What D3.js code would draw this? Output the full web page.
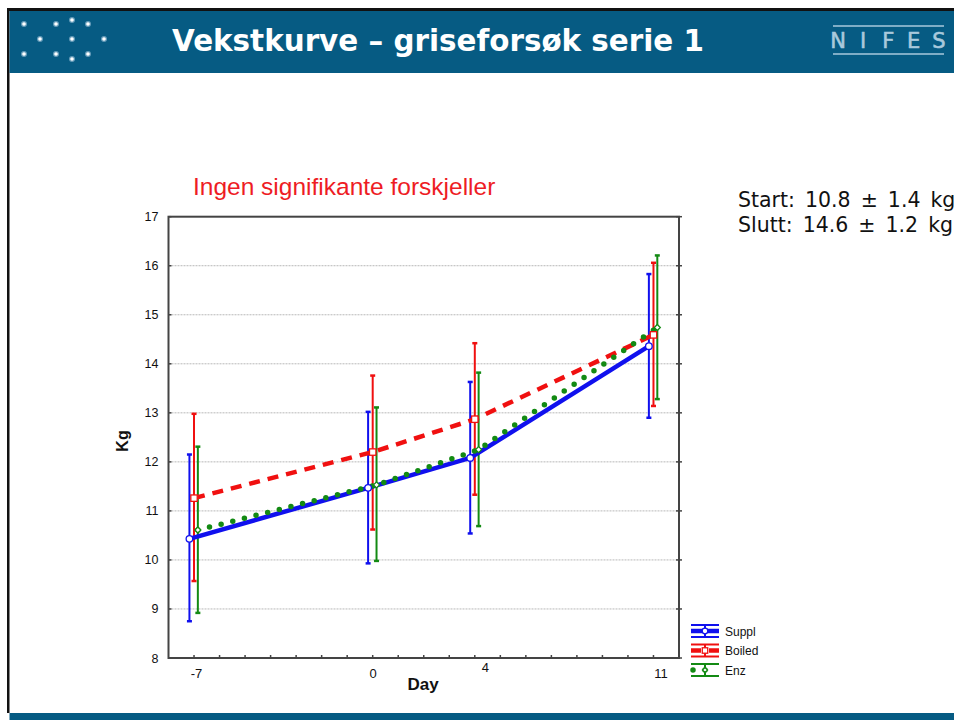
<!DOCTYPE html>
<html><head><meta charset="utf-8">
<script src="https://cdn.jsdelivr.net/npm/d3@7"></script>
<style>body{margin:0;background:#fff;} svg{display:block;}</style>
</head><body>
<svg id="c" width="954" height="720"></svg>
<script>
// ---- data ----
const days = [-7, 0, 4, 11];
const seriesNames = ["Suppl", "Boiled", "Enz"];
const supplMean = [10.43, 11.47, 12.08, 14.36];
const supplLow  = [8.75, 9.93, 10.54, 12.90];
const supplHigh = [12.15, 13.02, 13.63, 15.83];
const boiledMean = [11.26, 12.20, 12.87, 14.59];
const boiledLow  = [9.57, 10.62, 11.33, 13.14];
const boiledHigh = [12.98, 13.76, 14.42, 16.06];
const enzMean = [10.61, 11.53, 12.25, 14.74];
const enzLow  = [8.92, 9.98, 10.69, 13.28];
const enzHigh = [12.31, 13.11, 13.82, 16.21];
const yTicks = [8, 9, 10, 11, 12, 13, 14, 15, 16, 17];
const xTickLabels = [-7, 0, 4, 11];
const xMinorTicks = d3.range(-7, 12);

const svg = d3.select("#c");
const headerBlue = "#065b83";

// ---- slide frame ----
svg.append("rect").attr("x", 7).attr("y", 8).attr("width", 947).attr("height", 3).attr("fill", "#111");
svg.append("rect").attr("x", 7).attr("y", 8).attr("width", 2.5).attr("height", 705).attr("fill", "#111");
svg.append("rect").attr("x", 9.5).attr("y", 11).attr("width", 945).attr("height", 62).attr("fill", headerBlue);
svg.append("rect").attr("x", 9.5).attr("y", 713).attr("width", 945).attr("height", 7).attr("fill", headerBlue);

// logo dots
const dots = [[24,24],[56,24],[72,20],[88,24],[40,39],[72,39],[104,39],[24,54],[56,54],[72,59],[88,54]];
const dg = svg.append("g");
dg.selectAll(".halo").data(dots).join("circle").attr("cx", d => d[0]).attr("cy", d => d[1]).attr("r", 3).attr("fill", "#8fb8d0").attr("opacity", 0.7);
dg.selectAll(".core").data(dots).join("circle").attr("cx", d => d[0]).attr("cy", d => d[1]).attr("r", 1.8).attr("fill", "#ffffff");

svg.append("text").attr("x", 172).attr("y", 51)
  .attr("font-family", "DejaVu Sans, Verdana, sans-serif").attr("font-weight", "bold")
  .attr("font-size", 29.4).attr("fill", "#fff").text("Vekstkurve – griseforsøk serie 1");

// NIFES logo
const nifesColor = "#a9c9dc";
svg.append("line").attr("x1", 833).attr("x2", 944).attr("y1", 26).attr("y2", 26).attr("stroke", nifesColor).attr("stroke-width", 1.5);
svg.append("line").attr("x1", 833).attr("x2", 944).attr("y1", 54).attr("y2", 54).attr("stroke", nifesColor).attr("stroke-width", 1.5);
const nifesLetters = ["N","I","F","E","S"];
svg.selectAll(".nl").data(nifesLetters).join("text")
  .attr("x", (d, i) => 838 + i * 25.2).attr("y", 47.5).attr("text-anchor", "middle")
  .attr("font-family", "DejaVu Sans, sans-serif").attr("font-size", 21).attr("fill", nifesColor)
  .attr("stroke", nifesColor).attr("stroke-width", 0.6).text(d => d);

// ---- chart ----
const x = d3.scaleLinear().domain([-8, 12]).range([168.5, 679]);
const y = d3.scaleLinear().domain([8, 17]).range([658, 216.7]);
const axisColor = "#444";

// grid
svg.append("g").selectAll("line").data(yTicks.filter(v => v > 8 && v < 17)).join("line")
  .attr("x1", x(-8)).attr("x2", x(12)).attr("y1", d => y(d)).attr("y2", d => y(d))
  .attr("stroke", "#b8b8b8").attr("stroke-width", 1).attr("stroke-dasharray", "2,1");

// y axis labels
const yAxis = svg.append("g").attr("transform", `translate(${x(-8)},0)`)
  .call(d3.axisLeft(y).tickValues(yTicks).tickSize(0).tickPadding(10));
yAxis.select(".domain").remove();
yAxis.selectAll("text").attr("font-family", "Liberation Sans, Arial, sans-serif").attr("font-size", 12.5).attr("fill", "#111");

// y ticks inward (left and right)
svg.append("g").selectAll("line").data(yTicks).join("line")
  .attr("x1", x(-8)).attr("x2", x(-8) + 3).attr("y1", d => y(d)).attr("y2", d => y(d)).attr("stroke", axisColor).attr("stroke-width", 1.5);
svg.append("g").selectAll("line").data(yTicks).join("line")
  .attr("x1", x(12) - 3).attr("x2", x(12) + 3).attr("y1", d => y(d)).attr("y2", d => y(d)).attr("stroke", axisColor).attr("stroke-width", 1.5);

// x axis labels
const xAxis = svg.append("g").attr("transform", `translate(0,${y(8)})`)
  .call(d3.axisBottom(x).tickValues(xTickLabels).tickFormat(d => String(d)).tickSize(0).tickPadding(11));
xAxis.select(".domain").remove();
xAxis.selectAll("text").attr("font-family", "Liberation Sans, Arial, sans-serif").attr("font-size", 13).attr("fill", "#111")
  .attr("dx", d => d === 4 ? 10 : d === 11 ? 7 : d === -7 ? 2 : 0)
  .attr("dy", d => d === 4 ? "0.2em" : "0.71em");
// x minor ticks inward
svg.append("g").selectAll("line").data(xMinorTicks).join("line")
  .attr("x1", d => x(d)).attr("x2", d => x(d)).attr("y1", y(8)).attr("y2", y(8) - 3).attr("stroke", axisColor).attr("stroke-width", 1.5);

// frame
svg.append("rect").attr("x", x(-8)).attr("y", y(17)).attr("width", x(12) - x(-8)).attr("height", y(8) - y(17))
  .attr("fill", "none").attr("stroke", axisColor).attr("stroke-width", 2);

// axis titles
svg.append("text").attr("x", 423).attr("y", 690).attr("text-anchor", "middle")
  .attr("font-family", "Liberation Sans, Arial, sans-serif").attr("font-weight", "bold").attr("font-size", 17).attr("fill", "#111").text("Day");
svg.append("text").attr("transform", "translate(128,441) rotate(-90)").attr("text-anchor", "middle")
  .attr("font-family", "Liberation Sans, Arial, sans-serif").attr("font-weight", "bold").attr("font-size", 16).attr("fill", "#111").text("Kg");

// series
const series = [
  { name: seriesNames[0], mean: supplMean, low: supplLow, high: supplHigh, color: "#1010ee", off: -0.18, dash: null, cap: "butt", width: 4.5, marker: "circle" },
  { name: seriesNames[1], mean: boiledMean, low: boiledLow, high: boiledHigh, color: "#f01010", off: 0, dash: "11,8", cap: "butt", width: 4.5, marker: "square" },
  { name: seriesNames[2], mean: enzMean, low: enzLow, high: enzHigh, color: "#138a13", off: 0.15, dash: "0,12", cap: "round", width: 5.5, marker: "diamond" }
];

const line = d3.line().x(d => d[0]).y(d => d[1]);
const plot = svg.append("g");

// error bars
series.forEach(s => {
  const g = plot.append("g");
  days.forEach((d, i) => {
    const cx = x(d + s.off);
    g.append("line").attr("x1", cx).attr("x2", cx).attr("y1", y(s.low[i])).attr("y2", y(s.high[i])).attr("stroke", s.color).attr("stroke-width", 2);
    g.append("line").attr("x1", cx - 2.5).attr("x2", cx + 2.5).attr("y1", y(s.low[i])).attr("y2", y(s.low[i])).attr("stroke", s.color).attr("stroke-width", 2.5);
    g.append("line").attr("x1", cx - 2.5).attr("x2", cx + 2.5).attr("y1", y(s.high[i])).attr("y2", y(s.high[i])).attr("stroke", s.color).attr("stroke-width", 2.5);
  });
});
// mean lines
series.forEach(s => {
  const pts = days.map((d, i) => [x(d + s.off), y(s.mean[i])]);
  const p = plot.append("path").attr("d", line(pts)).attr("fill", "none").attr("stroke", s.color)
    .attr("stroke-width", s.width).attr("stroke-linecap", s.cap).attr("stroke-linejoin", "round");
  if (s.dash) p.attr("stroke-dasharray", s.dash);
});
// markers
function drawMarker(g, type, cx, cy, color, size) {
  if (type === "circle") {
    g.append("circle").attr("cx", cx).attr("cy", cy).attr("r", 3.3 * size).attr("fill", "#fff").attr("stroke", color).attr("stroke-width", 1.3);
  } else if (type === "square") {
    const h = 3.2 * size;
    g.append("rect").attr("x", cx - h).attr("y", cy - h).attr("width", 2 * h).attr("height", 2 * h).attr("fill", "#fff").attr("stroke", color).attr("stroke-width", 1.3);
  } else {
    const h = 3 * size;
    g.append("path").attr("d", `M${cx},${cy - h}L${cx + h},${cy}L${cx},${cy + h}L${cx - h},${cy}Z`).attr("fill", "#fff").attr("stroke", color).attr("stroke-width", 1.3);
  }
}
series.forEach(s => {
  const g = plot.append("g");
  days.forEach((d, i) => drawMarker(g, s.marker, x(d + s.off), y(s.mean[i]), s.color, 1));
});

// chart title
svg.append("text").attr("x", 193).attr("y", 195)
  .attr("font-family", "Liberation Sans, Arial, sans-serif").attr("font-size", 24.5).attr("fill", "#ee1c24")
  .text("Ingen signifikante forskjeller");

// start/slutt text
const infoLines = ["Start: 10.8 ± 1.4 kg", "Slutt: 14.6 ± 1.2 kg"];
svg.selectAll(".info").data(infoLines).join("text")
  .attr("x", 738).attr("y", (d, i) => 206.5 + i * 25)
  .attr("font-family", "DejaVu Sans, Verdana, sans-serif").attr("font-size", 20.5).attr("word-spacing", 3.5)
  .attr("fill", "#111").text(d => d);

// legend
const lg = svg.append("g");
series.forEach((s, i) => {
  const cy = 631 + i * 19.5;
  const x0 = 691, x1 = 719, mx = 705;
  lg.append("line").attr("x1", x0).attr("x2", x1).attr("y1", cy - 6).attr("y2", cy - 6).attr("stroke", s.color).attr("stroke-width", 2);
  lg.append("line").attr("x1", x0).attr("x2", x1).attr("y1", cy + 6).attr("y2", cy + 6).attr("stroke", s.color).attr("stroke-width", 2);
  lg.append("line").attr("x1", mx).attr("x2", mx).attr("y1", cy - 6).attr("y2", cy + 6).attr("stroke", s.color).attr("stroke-width", 2);
  const p = lg.append("line").attr("x1", x0 + (s.cap === "round" ? 2 : 0)).attr("x2", x1 - (s.cap === "round" ? 2 : 0)).attr("y1", cy).attr("y2", cy)
    .attr("stroke", s.color).attr("stroke-width", s.width).attr("stroke-linecap", s.cap);
  if (s.dash) p.attr("stroke-dasharray", s.marker === "square" ? "10,8" : s.dash);
  drawMarker(lg, s.marker, mx, cy, s.color, 0.85);
  lg.append("text").attr("x", 725).attr("y", cy + 4.5)
    .attr("font-family", "Liberation Sans, Arial, sans-serif").attr("font-size", 12).attr("fill", "#111").text(s.name);
});
</script>
</body></html>
